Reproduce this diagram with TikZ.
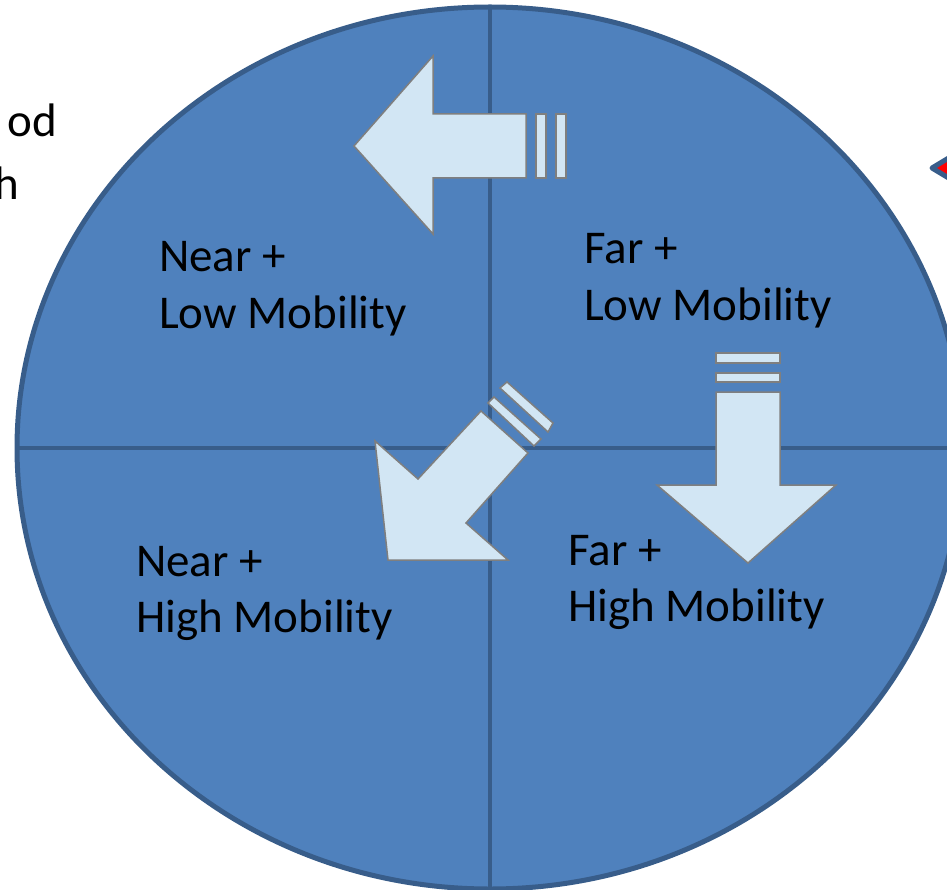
\documentclass[tikz,border=0pt]{standalone}
\usepackage{fontspec}
\setmainfont{Carlito}
\usepackage{xcolor}
\usepackage{tikz}
\definecolor{quadblue}{HTML}{4F81BD}
\definecolor{rimblue}{HTML}{385D8A}
\definecolor{arrowfill}{HTML}{D2E6F4}
\definecolor{arrowline}{HTML}{7F7F7F}

\begin{document}
\begin{tikzpicture}[
	x=1pt, y=-1pt,
	every node/.style={font=\fontsize{47}{56}\selectfont, align=left, inner sep=0pt, anchor=base west},
	quadarrow/.style={fill=arrowfill, draw=arrowline, line width=1.5pt, line join=miter},
	divider/.style={draw=rimblue, line width=4.5pt},
	rim/.style={draw=rimblue, line width=5pt},
	pointer/.style={fill=red, draw=rimblue, line width=5pt, line join=round}
	]
	\useasboundingbox (0,0) rectangle (947,890);
	
	% Define circle and dividers
	\coordinate (top) at (490,7);
	\coordinate (bottom) at (490,889);
	\coordinate (left) at (17,448);
	\coordinate (right) at (963,448);
	\fill [quadblue] (490,448) ellipse [x radius=473, y radius=441];
	\path [divider] (top) -- (bottom);
	\path [divider] (left) -- (right);
	\path [rim] (490,448) ellipse [x radius=473, y radius=441];
	
	% Draw arrows
	\path [quadarrow] (526,114) -- (433,114) -- (433,56) -- (354,146) -- (433,234) -- (433,178) -- (526,178) -- cycle;
	\path [quadarrow] (536,114) rectangle (546,178);
	\path [quadarrow] (556,114) rectangle (566,178);
	
	\path [quadarrow] (716,392) -- (780,392) -- (780,485) -- (836,485) -- (748,563) -- (657,485) -- (716,485) -- cycle;
	\path [quadarrow] (716,353) rectangle (780,363);
	\path [quadarrow] (716,373) rectangle (780,382);
	
	\path [quadarrow] (388,560) -- (375,441) -- (418,479) -- (481,411) -- (528,453) -- (466,523) -- (508,560) -- cycle;
	\path [quadarrow] (488,403) -- (494,397) -- (541,439) -- (534,446) -- cycle;
	\path [quadarrow] (500,388) -- (507,382) -- (553,423) -- (548,432) -- cycle;
	
	\path [pointer] (932,168) -- (962,150) -- (962,186) -- cycle;
	
	% Define labels (base is the last line)
	\node (nearLow) at (159,328) {Near +\\Low Mobility};
	\node (farLow) at (584,320) {Far +\\Low Mobility};
	\node (nearHigh) at (136,632) {Near +\\High Mobility};
	\node (farHigh) at (568,621) {Far +\\High Mobility};
	\node (cutTop) [anchor=base east] at (57,137) {od};
	\node (cutLow) [anchor=base east] at (19,200) {h};
	
\end{tikzpicture}
\end{document}
